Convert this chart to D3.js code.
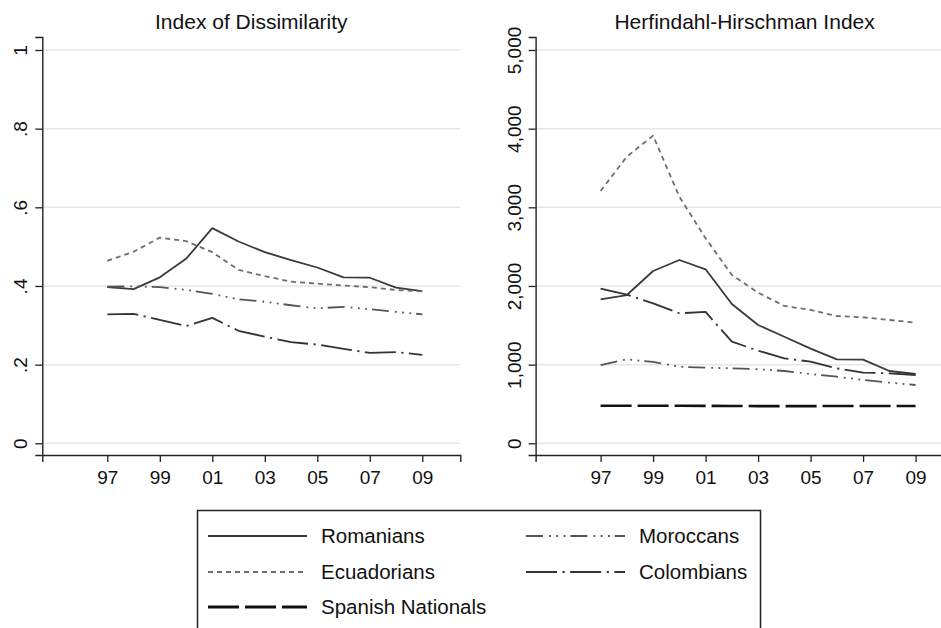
<!DOCTYPE html>
<html>
<head>
<meta charset="utf-8">
<style>
body { margin: 0; background: #fff; }
text { font-family: "Liberation Sans", Arial, sans-serif; fill: #111; }
.axis .domain { stroke: #222; stroke-width: 1.4; }
.axis line { stroke: #222; stroke-width: 1.3; }
.grid line { stroke: #e6e6e6; stroke-width: 1.5; }
</style>
</head>
<body>
<svg width="941" height="628"></svg>
<script src="https://d3js.org/d3.v7.min.js"></script>
<script>

// years and tick labels
var years = [1997, 1998, 1999, 2000, 2001, 2002, 2003, 2004, 2005, 2006, 2007, 2008, 2009];
var xTicks = [1997, 1999, 2001, 2003, 2005, 2007, 2009];
var xTickLabels = ["97", "99", "01", "03", "05", "07", "09"];

var idTicks = [0, 0.2, 0.4, 0.6, 0.8, 1];
var idTickLabels = ["0", ".2", ".4", ".6", ".8", "1"];
var hhiTicks = [0, 1000, 2000, 3000, 4000, 5000];
var hhiTickLabels = ["0", "1,000", "2,000", "3,000", "4,000", "5,000"];

// Index of Dissimilarity (no line for Spanish Nationals)
var idRomanians   = [0.397, 0.392, 0.422, 0.469, 0.547, 0.513, 0.486, 0.466, 0.447, 0.422, 0.421, 0.396, 0.387];
var idEcuadorians = [0.464, 0.487, 0.523, 0.514, 0.486, 0.441, 0.425, 0.411, 0.406, 0.401, 0.397, 0.390, 0.386];
var idMoroccans   = [0.398, 0.399, 0.397, 0.390, 0.380, 0.366, 0.360, 0.351, 0.343, 0.347, 0.341, 0.334, 0.328];
var idColombians  = [0.328, 0.329, 0.314, 0.298, 0.319, 0.286, 0.271, 0.257, 0.251, 0.240, 0.230, 0.232, 0.225];

// Herfindahl-Hirschman Index
var hhiRomanians   = [1830, 1885, 2190, 2330, 2212, 1771, 1504, 1355, 1203, 1068, 1064, 919, 881];
var hhiEcuadorians = [3208, 3644, 3911, 3135, 2606, 2140, 1915, 1746, 1695, 1618, 1602, 1568, 1533];
var hhiSpanish     = [478, 477, 477, 477, 476, 475, 473, 473, 473, 474, 475, 475, 474];
var hhiMoroccans   = [995, 1068, 1034, 974, 961, 953, 941, 919, 881, 847, 805, 771, 741];
var hhiColombians  = [1966, 1890, 1780, 1653, 1670, 1292, 1178, 1081, 1038, 953, 898, 890, 868];

var styles = {
  "Romanians":         {color: "#3a3a3a", width: 1.8, dash: null},
  "Ecuadorians":       {color: "#6e6e6e", width: 1.8, dash: "5,4"},
  "Spanish Nationals": {color: "#111111", width: 2.6, dash: "31,6"},
  "Moroccans":         {color: "#555555", width: 1.8, dash: "17,6,1.8,5.5,1.8,5.5,1.8,5"},
  "Colombians":        {color: "#333333", width: 1.8, dash: "31,5.5,2.2,5.5"}
};

var svg = d3.select("svg");
svg.append("rect").attr("width", 941).attr("height", 628).attr("fill", "#fff");

var plotW = 418;

function drawPanel(left, title, top, ticks, tickLabels, series) {
  var g = svg.append("g").attr("transform", "translate(" + left + ",0)");

  var x = d3.scaleLinear().domain([1997, 2009]).range([65, 380]);
  x.domain([x.invert(0), x.invert(plotW)]).range([0, plotW]);

  var y = d3.scaleLinear().domain([0, top]).range([443.3, 50]);
  y.domain([y.invert(455), y.invert(37)]).range([455, 37]);

  // gridlines
  g.append("g").attr("class", "grid")
    .selectAll("line").data(ticks).enter().append("line")
      .attr("x1", 0).attr("x2", plotW)
      .attr("y1", function(d) { return y(d); })
      .attr("y2", function(d) { return y(d); });

  // lines
  var line = d3.line()
      .x(function(d, i) { return x(years[i]); })
      .y(function(d) { return y(d); });

  series.forEach(function(s) {
    var st = styles[s.key];
    g.append("path")
      .datum(s.values)
      .attr("fill", "none")
      .attr("stroke", st.color)
      .attr("stroke-width", st.width)
      .attr("stroke-dasharray", st.dash)
      .attr("stroke-linejoin", "round")
      .attr("d", line);
  });

  // x axis
  g.append("g")
      .attr("class", "axis")
      .attr("transform", "translate(0,455)")
      .call(d3.axisBottom(x).tickValues(xTicks).tickSizeOuter(0).tickSize(7).tickPadding(9)
        .tickFormat(function(d, i) { return xTickLabels[i]; }))
    .selectAll("text")
      .attr("font-size", 19)
      .attr("fill", "#111");

  // y axis, rotated labels
  g.append("g")
      .attr("class", "axis")
      .call(d3.axisLeft(y).tickValues(ticks).tickSizeOuter(0).tickSize(7)
        .tickFormat(function(d, i) { return tickLabels[i]; }))
    .selectAll("text")
      .attr("transform", "rotate(-90)")
      .attr("x", 0)
      .attr("y", -15)
      .attr("dy", 0)
      .attr("text-anchor", "middle")
      .attr("font-size", 19)
      .attr("fill", "#111");

  g.selectAll(".axis text").attr("font-family", "Liberation Sans, Arial, sans-serif");

  g.append("text")
      .attr("x", plotW / 2)
      .attr("y", 29)
      .attr("text-anchor", "middle")
      .attr("font-size", 21)
      .text(title);
}

drawPanel(42.3, "Index of Dissimilarity", 1, idTicks, idTickLabels, [
  {key: "Romanians", values: idRomanians},
  {key: "Ecuadorians", values: idEcuadorians},
  {key: "Moroccans", values: idMoroccans},
  {key: "Colombians", values: idColombians}
]);

drawPanel(535.6, "Herfindahl-Hirschman Index", 5000, hhiTicks, hhiTickLabels, [
  {key: "Romanians", values: hhiRomanians},
  {key: "Ecuadorians", values: hhiEcuadorians},
  {key: "Spanish Nationals", values: hhiSpanish},
  {key: "Moroccans", values: hhiMoroccans},
  {key: "Colombians", values: hhiColombians}
]);

// legend box, cut off at the bottom of the picture
svg.append("rect")
    .attr("x", 197.5).attr("y", 510.5)
    .attr("width", 563).attr("height", 160)
    .attr("fill", "none")
    .attr("stroke", "#222")
    .attr("stroke-width", 1.5);

var legendPos = [
  {key: "Romanians", x: 208, y: 536},
  {key: "Ecuadorians", x: 208, y: 572},
  {key: "Spanish Nationals", x: 208, y: 607},
  {key: "Moroccans", x: 526, y: 536},
  {key: "Colombians", x: 526, y: 572}
];

var legend = svg.append("g")
  .selectAll("g")
  .data(legendPos)
  .enter().append("g")
    .attr("transform", function(d) { return "translate(" + d.x + "," + d.y + ")"; });

legend.append("line")
    .attr("x1", 0).attr("x2", 99)
    .attr("stroke", function(d) { return styles[d.key].color; })
    .attr("stroke-width", function(d) { return styles[d.key].width + 0.3; })
    .attr("stroke-dasharray", function(d) { return styles[d.key].dash; });

legend.append("text")
    .attr("x", 113)
    .attr("dy", "0.35em")
    .attr("font-size", 20.5)
    .text(function(d) { return d.key; });

</script>
</body>
</html>
